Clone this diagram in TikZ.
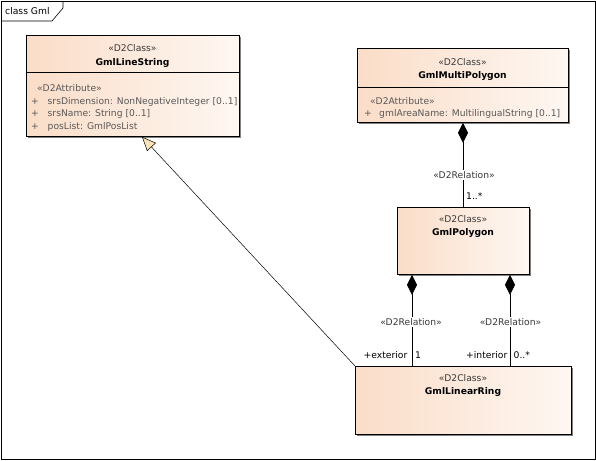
\documentclass[tikz,border=0pt]{standalone}
\usepackage{fontspec}
\setmainfont{DejaVu Sans}
\usetikzlibrary{arrows.meta,shadows}
\definecolor{peachL}{HTML}{FADDC8}
\definecolor{peachR}{HTML}{FEF7F2}
\definecolor{txtgray}{HTML}{585858}
\definecolor{stgray}{HTML}{383838}
\definecolor{triFill}{HTML}{FBE2B6}
\begin{document}
\begin{tikzpicture}[x=1pt,y=-1pt,
  font=\fontsize{9.2}{11}\selectfont,
  umlbox/.style={draw=black, line width=0.8pt, left color=peachL, right color=peachR,
    anchor=north west, inner sep=0pt,
    drop shadow={shadow xshift=1.3pt, shadow yshift=-1.3pt, fill=black!70, opacity=0.7}},
  stereo/.style={anchor=base, text=stgray, inner sep=0pt},
  cname/.style={anchor=base, font=\fontsize{9.2}{11}\selectfont\bfseries, inner sep=0pt},
  attr/.style={anchor=base west, text=txtgray, inner sep=0pt},
  rel/.style={anchor=base, text=stgray, fill=white, inner sep=1.5pt},
  mult/.style={anchor=base west, inner sep=0pt},
  role/.style={anchor=base east, inner sep=0pt},
  comp/.style={draw=black, line width=0.6pt, {Diamond[length=20pt,width=10pt,fill=black]}-},
  gen/.style={draw=black, line width=0.5pt, -{Triangle[length=14pt,width=12pt,fill=triFill,line width=0.5pt]}}
]
\useasboundingbox (0,0) rectangle (596,460);
% frame
\draw[line width=0.6pt] (1,1) rectangle (595,459);
\draw[line width=0.6pt] (1,21) -- (52,21) -- (63,8) -- (63,1);
\node[anchor=base west, inner sep=0pt] (frametitle) at (5,14.5) {class Gml};

% GmlLineString
\node[umlbox, minimum width=213pt, minimum height=101pt] (ls) at (26,35) {};
\draw[line width=0.6pt] (ls.west |- 0,72) -- (ls.east |- 0,72);
\node[stereo] (lsst) at (132.5,51.5) {«D2Class»};
\node[cname] (lsnm) at (132.5,65) {GmlLineString};
\node[attr] (lsa0) at (37,91) {«D2Attribute»};
\node[attr] (lsp1) at (31,104) {+};
\node[attr] (lsa1) at (47.5,104) {srsDimension: NonNegativeInteger [0..1]};
\node[attr] (lsp2) at (31,116.5) {+};
\node[attr] (lsa2) at (47.5,116.5) {srsName: String [0..1]};
\node[attr] (lsp3) at (31,129.5) {+};
\node[attr] (lsa3) at (47.5,129.5) {posList: GmlPosList};

% GmlMultiPolygon
\node[umlbox, minimum width=211pt, minimum height=74pt] (mp) at (357,48) {};
\draw[line width=0.6pt] (mp.west |- 0,87) -- (mp.east |- 0,87);
\node[stereo] (mpst) at (462.5,65) {«D2Class»};
\node[cname] (mpnm) at (462.5,78.5) {GmlMultiPolygon};
\node[attr] (mpa0) at (370,104.5) {«D2Attribute»};
\node[attr] (mpp1) at (364,116) {+};
\node[attr] (mpa1) at (379,116) {gmlAreaName: MultilingualString [0..1]};

% GmlPolygon
\node[umlbox, minimum width=132pt, minimum height=67pt] (pg) at (397,207) {};
\node[stereo] (pgst) at (463,222.5) {«D2Class»};
\node[cname] (pgnm) at (463,235) {GmlPolygon};

% GmlLinearRing
\node[umlbox, minimum width=216pt, minimum height=68pt] (lr) at (355,366) {};
\node[stereo] (lrst) at (463,381.5) {«D2Class»};
\node[cname] (lrnm) at (463,394) {GmlLinearRing};

% connectors
\coordinate (cx1) at (463,0);
\coordinate (cx2) at (412,0);
\coordinate (cx3) at (510,0);
\coordinate (gx) at (142,0);
\draw[comp] (mp.south -| cx1) -- (pg.north -| cx1);
\draw[comp] (pg.south -| cx2) -- (lr.north -| cx2);
\draw[comp] (pg.south -| cx3) -- (lr.north -| cx3);
\draw[gen] (lr.north west) -- (ls.south -| gx);

% labels
\node[rel] (r1) at (464,178) {«D2Relation»};
\node[mult] (m1) at (466,199.5) {1..*};
\node[rel] (r2) at (411,325.5) {«D2Relation»};
\node[rel] (r3) at (510.5,325.5) {«D2Relation»};
\node[role] (ro2) at (407.5,358) {+exterior};
\node[mult] (m2) at (415,358) {1};
\node[role] (ro3) at (507.5,358) {+interior};
\node[mult] (m3) at (513.5,358) {0..*};
\end{tikzpicture}
\end{document}
